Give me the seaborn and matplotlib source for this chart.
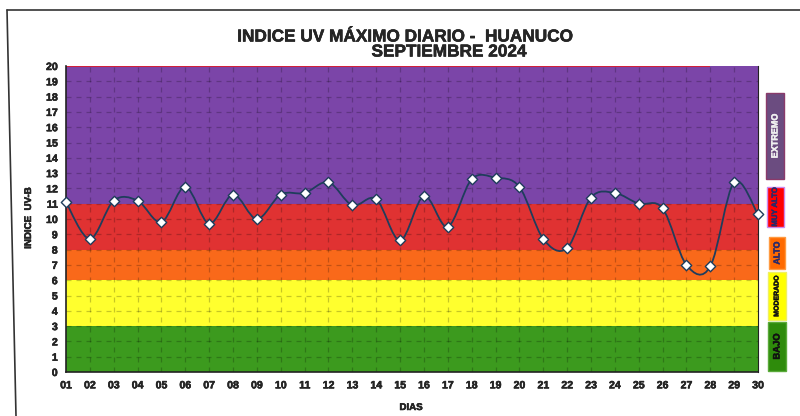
import numpy as np
import pandas as pd
import matplotlib
matplotlib.use("Agg")
import matplotlib.pyplot as plt
import matplotlib.patheffects as pe
import seaborn as sns
from matplotlib.path import Path
from matplotlib.patches import PathPatch, Rectangle
from matplotlib.lines import Line2D

# datos del mes
dias = list(range(1, 31))
etiquetas_dias = ["%02d" % d for d in dias]
uv_max = [11.1, 8.7, 11.2, 11.2, 9.8, 12.1, 9.7, 11.6, 10.0, 11.6,
          11.7, 12.4, 10.9, 11.3, 8.6, 11.5, 9.5, 12.6, 12.7, 12.1,
          8.7, 8.1, 11.4, 11.7, 11.0, 10.7, 7.0, 6.9, 12.4, 10.3]

# niveles de riesgo
niveles = ["BAJO", "MODERADO", "ALTO", "MUY ALTO", "EXTREMO"]
limites = [0, 3, 6, 8, 11, 20]
colores_banda = ["#3c9a1e", "#ffff2e", "#f9691a", "#e03232", "#7b45a8"]

sns.set_style("white")
plt.rcParams['font.family'] = ['Liberation Sans', 'DejaVu Sans']
plt.rcParams['font.weight'] = 'bold'

df = pd.DataFrame({'dia': dias, 'uv': uv_max})
grueso = [pe.withStroke(linewidth=0.35, foreground='black')]

fig = plt.figure(figsize=(8, 4.16), dpi=100)
ax = fig.add_axes([66 / 800, 44 / 416, 692 / 800, 306 / 416])

for i in range(len(niveles)):
    ax.axhspan(limites[i], limites[i + 1], color=colores_banda[i], lw=0, zorder=0)

# rejilla punteada
for y in range(1, 20):
    ax.axhline(y, color='black', alpha=0.22, lw=0.9, ls=(0, (4, 4)), zorder=1)
for d in dias[1:-1]:
    ax.axvline(d, color='black', alpha=0.22, lw=0.9, ls=(0, (4, 4)), zorder=1)
ax.hlines(20, 1, 28, color='#d0203a', lw=1.5, zorder=2)


def curva_suave(x, y):
    pts = np.column_stack([x, y]).astype(float)
    verts = [pts[0]]
    codes = [Path.MOVETO]
    n = len(pts)
    for i in range(n - 1):
        p0 = pts[i - 1] if i > 0 else pts[i]
        p1 = pts[i]
        p2 = pts[i + 1]
        p3 = pts[i + 2] if i + 2 < n else pts[i + 1]
        verts += [p1 + (p2 - p0) / 6, p2 - (p3 - p1) / 6, p2]
        codes += [Path.CURVE4] * 3
    return Path(verts, codes)


ax.add_patch(PathPatch(curva_suave(df['dia'], df['uv']), fc='none',
                       ec='#1f3d5c', lw=1.3, zorder=3, clip_on=False))
sns.scatterplot(data=df, x='dia', y='uv', marker='D', s=28, color='white',
                edgecolor='#1f3d5c', linewidth=1.0, zorder=4, clip_on=False, ax=ax)

ax.set_xlim(1, 30)
ax.set_ylim(0, 20)
ax.set_xticks(dias)
ax.set_xticklabels(etiquetas_dias, fontsize=7.6, fontweight='bold')
ax.set_yticks(range(0, 21))
ax.set_yticklabels([str(v) for v in range(0, 21)], fontsize=7.6, fontweight='bold')
for t in ax.get_xticklabels() + ax.get_yticklabels():
    t.set_path_effects(grueso)
ax.tick_params(axis='both', length=3, width=0.8, color='#555555', pad=3, direction='out')
ax.set_xlabel("")
ax.set_ylabel("")
for lado in ['left', 'bottom']:
    ax.spines[lado].set_color('#222222')
    ax.spines[lado].set_linewidth(1.2)
ax.spines['right'].set_color('#222222')
ax.spines['right'].set_linewidth(0.8)
ax.spines['top'].set_visible(False)

fig.text(28 / 800, 1 - 218 / 416, "INDICE  UV-B", rotation=90, ha='center', va='center',
         fontsize=7, fontweight='bold', path_effects=grueso)
fig.text(411 / 800, 1 - 407 / 416, "DIAS", ha='center', va='center',
         fontsize=7, fontweight='bold', path_effects=grueso)
fig.text(405 / 800, 1 - 37 / 416, "INDICE UV MÁXIMO DIARIO -  HUANUCO", ha='center',
         va='center', fontsize=12.4, fontweight='bold', path_effects=grueso)
fig.text(449 / 800, 1 - 52 / 416, "SEPTIEMBRE 2024", ha='center', va='center',
         fontsize=12.4, fontweight='bold', path_effects=grueso)

# leyenda lateral
cajas = [
    ("EXTREMO", 766, 93, 18, 86, "#6b4c80", "#8a3a6a", "#f0f0f0", 6.5),
    ("MUY ALTO", 767, 187, 17, 40, "#ff0000", "#cc88ee", "#2a2a6a", 5.6),
    ("ALTO", 769, 237, 16, 32, "#ff6a00", "#ff9a40", "#2a2a6a", 6.3),
    ("MODERADO", 768, 272, 18, 48, "#ffff00", "#f0f060", "#111111", 5.0),
    ("BAJO", 768, 322, 18, 49, "#2e8b0b", "#5aaa3a", "#111111", 6.8),
]
for texto, x0, y0, w, h, fc, ec, tc, fs in cajas:
    fig.patches.append(Rectangle((x0 / 800, 1 - (y0 + h) / 416), w / 800, h / 416,
                                 transform=fig.transFigure, fc=fc, ec=ec, lw=1.0))
    fig.text((x0 + w / 2) / 800, 1 - (y0 + h / 2) / 416, texto, rotation=90,
             ha='center', va='center', fontsize=fs, fontweight='bold', color=tc,
             path_effects=[pe.withStroke(linewidth=0.3, foreground=tc)])

# marco exterior
fig.lines.append(Line2D([7 / 800, 1.0], [1 - 10 / 416, 1 - 10 / 416],
                        transform=fig.transFigure, color='#333333', lw=1.2))
fig.lines.append(Line2D([7 / 800, 16 / 800], [1 - 10 / 416, 0.0],
                        transform=fig.transFigure, color='#333333', lw=1.2))

fig.savefig("out.png", dpi=100)
